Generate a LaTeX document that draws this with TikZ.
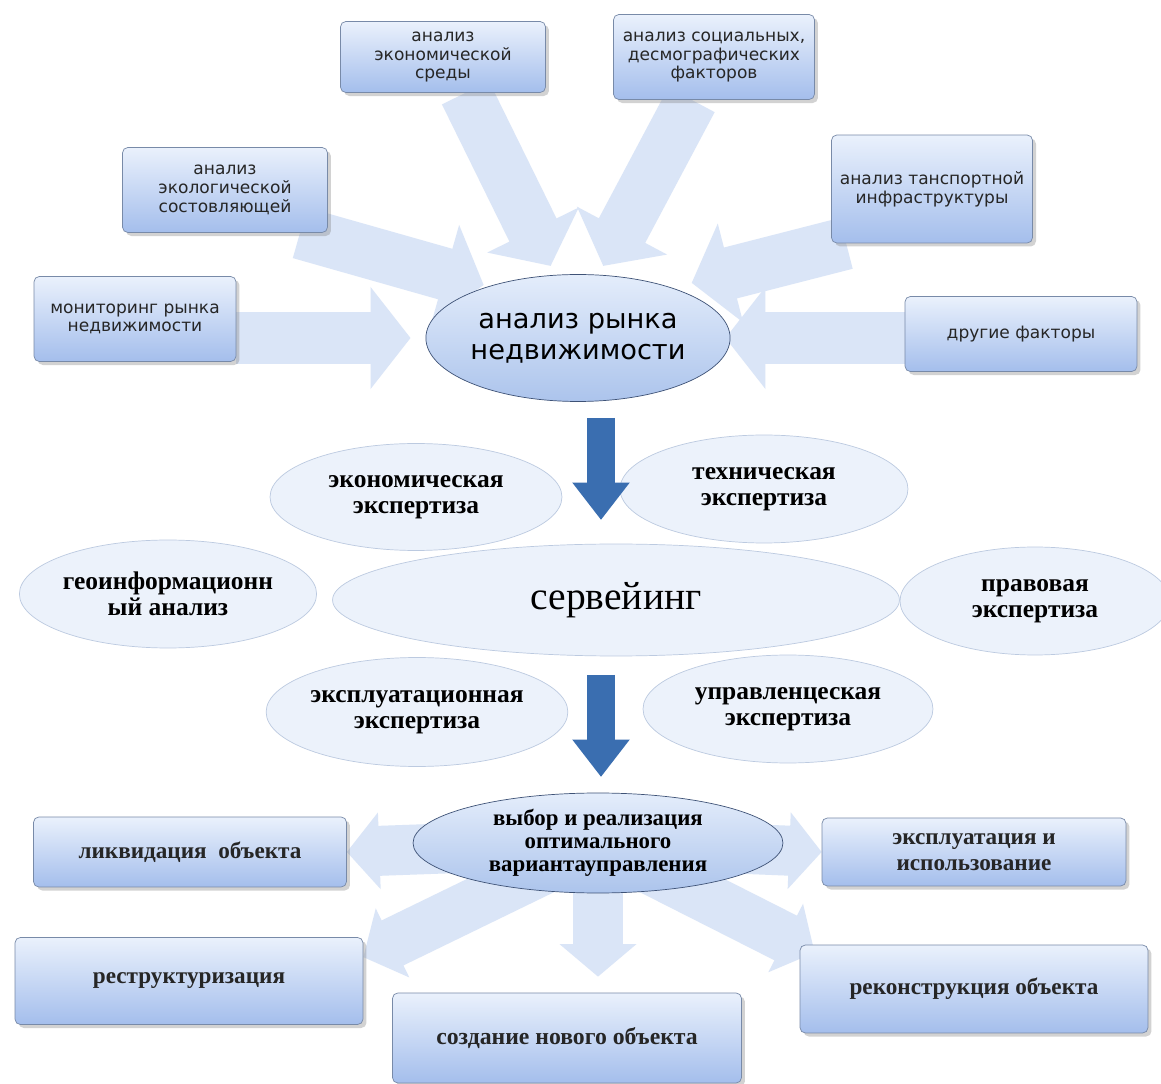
\documentclass[tikz,border=0pt]{standalone}
\usepackage{fontspec}
\setmainfont{Liberation Serif}
\newfontfamily\boxfont{DejaVu Sans}
\usepackage{xcolor}
\usetikzlibrary{shapes.geometric,arrows.meta,shadows,backgrounds}
\definecolor{boxtop}{RGB}{234,241,252}
\definecolor{boxbottom}{RGB}{164,190,236}
\definecolor{boxline}{RGB}{120,138,168}
\definecolor{ovaltop}{RGB}{228,237,251}
\definecolor{ovalbottom}{RGB}{172,196,236}
\definecolor{ovalline}{RGB}{62,82,118}
\definecolor{paleoval}{RGB}{236,242,251}
\definecolor{paleline}{RGB}{188,202,224}
\definecolor{flowblue}{RGB}{58,110,176}
\definecolor{lightflow}{RGB}{218,229,247}

\begin{document}
\begin{tikzpicture}[x=0.02cm, y=-0.02cm,
  factorbox/.style={rectangle, rounded corners=3pt, draw=boxline, top color=boxtop, bottom color=boxbottom,
    drop shadow={opacity=0.35, shadow xshift=2pt, shadow yshift=-2pt}, align=center,
    font=\boxfont\fontsize{9.7}{10.6}\selectfont, text=black!85},
  resultbox/.style={factorbox, font=\bfseries\fontsize{13.2}{15}\selectfont},
  mainoval/.style={ellipse, draw=ovalline, top color=ovaltop, bottom color=ovalbottom, align=center, inner sep=0pt},
  expertoval/.style={ellipse, draw=paleline, fill=paleoval, align=center, inner sep=0pt,
    font=\bfseries\fontsize{14.5}{14.5}\selectfont},
  widearrow/.style={draw=lightflow, line width=1.05cm, -{Triangle[length=0.8cm, width=2.0cm]}},
  shortarrow/.style={draw=lightflow, line width=1.0cm, -{Triangle[length=0.65cm, width=1.5cm]}},
  downarrow/.style={draw=flowblue, line width=0.56cm, -{Triangle[length=0.75cm, width=1.1cm]}}]
  \useasboundingbox (0,0) rectangle (1161,1084);

  % Factors around the market analysis
  \node[factorbox, minimum width=4.1cm, minimum height=1.42cm] (econ) at (443,57) {анализ\\экономической\\среды};
  \node[factorbox, minimum width=4.02cm, minimum height=1.7cm] (social) at (714,57) {анализ социальных,\\десмографических\\факторов};
  \node[factorbox, minimum width=4.1cm, minimum height=1.7cm] (ecol) at (225,190) {анализ\\экологической\\состовляющей};
  \node[factorbox, minimum width=4.02cm, minimum height=2.16cm] (transp) at (932,189) {анализ танспортной\\инфраструктуры};
  \node[factorbox, minimum width=4.04cm, minimum height=1.7cm] (monit) at (135,319) {мониторинг рынка\\недвижимости};
  \node[factorbox, minimum width=4.64cm, minimum height=1.5cm] (other) at (1021,334) {другие факторы};
  \node[mainoval, minimum width=5.8cm, minimum height=2.54cm, font=\boxfont\fontsize{15.5}{17.5}\selectfont] (market) at (578,338) {анализ рынка\\недвижимости};

  % Expertise ovals round the surveying
  \node[expertoval, minimum width=5.84cm, minimum height=2.14cm] (econexp) at (416,497) {экономическая\\экспертиза};
  \node[expertoval, minimum width=5.76cm, minimum height=2.16cm] (techexp) at (764,489) {техническая\\экспертиза};
  \node[expertoval, minimum width=5.8cm, minimum height=2.16cm] (geo) at (168,594) {геоинформационн\\ый анализ};
  \node[expertoval, minimum width=5.4cm, minimum height=2.16cm] (legal) at (1035,601) {правовая\\экспертиза};
  \node[expertoval, minimum width=5.7cm, minimum height=2.18cm] (operexp) at (417,712) {эксплуатационная\\экспертиза};
  \node[expertoval, minimum width=5.8cm, minimum height=2.16cm] (mgmtexp) at (788,709) {управленцеская\\экспертиза};
  \node[expertoval, minimum width=11.34cm, minimum height=2.24cm, font=\fontsize{22.5}{26}\selectfont] (survey) at (616,600) {сервейинг};

  % Choice of the management variant and its outcomes
  \node[mainoval, minimum width=7.4cm, minimum height=2.0cm, font=\bfseries\fontsize{13}{13.2}\selectfont] (choice) at (598,843) {выбор и реализация\\оптимального\\вариантауправления};
  \node[resultbox, minimum width=6.26cm, minimum height=1.4cm] (liquid) at (190,852) {ликвидация\ \ объекта};
  \node[resultbox, minimum width=6.08cm, minimum height=1.36cm] (operate) at (974,852) {эксплуатация и\\использование};
  \node[resultbox, minimum width=6.96cm, minimum height=1.74cm] (restruct) at (189,981) {реструктуризация};
  \node[resultbox, minimum width=6.96cm, minimum height=1.76cm] (rebuild) at (974,989) {реконструкция объекта};
  \node[resultbox, minimum width=6.98cm, minimum height=1.8cm, font=\bfseries\fontsize{13.5}{15}\selectfont] (newobj) at (567,1038) {создание нового объекта};

  \coordinate (flowa) at (601,418);
  \coordinate (flowb) at (601,520);
  \coordinate (flowc) at (601,675);
  \coordinate (flowd) at (601,777);

  \begin{scope}[on background layer]
    \fill[white] (0,0) rectangle (1161,1084);
    \draw[widearrow, shorten >=0.3cm] (monit.east |- market.west) -- (market.west);
    \draw[widearrow, shorten >=0.1cm] ([xshift=1.5cm]ecol.south) -- (market.150);
    \draw[widearrow, shorten >=0.2cm] ([xshift=0.45cm]econ.south) -- (market.110);
    \draw[widearrow, shorten >=0.2cm] ([xshift=-0.45cm]social.south) -- (market.72);
    \draw[widearrow, shorten >=0.4cm] ([xshift=0.3cm]transp.south west) -- (market.28);
    \draw[widearrow, shorten >=-0.1cm] (other.west |- market.east) -- (market.east);
    \draw[shortarrow] (choice.center) -- (liquid.east);
    \draw[shortarrow] (choice.center) -- (operate.west);
    \draw[shortarrow] (choice.center) -- ([yshift=-0.4cm]restruct.north east);
    \draw[shortarrow, shorten >=0.32cm] (choice.center) -- (choice.center |- newobj.north);
    \draw[shortarrow] (choice.center) -- ([xshift=0.3cm, yshift=-0.16cm]rebuild.north west);
  \end{scope}

  % Main flow
  \draw[downarrow] (flowa) -- (flowb);
  \draw[downarrow] (flowc) -- (flowd);
\end{tikzpicture}
\end{document}
